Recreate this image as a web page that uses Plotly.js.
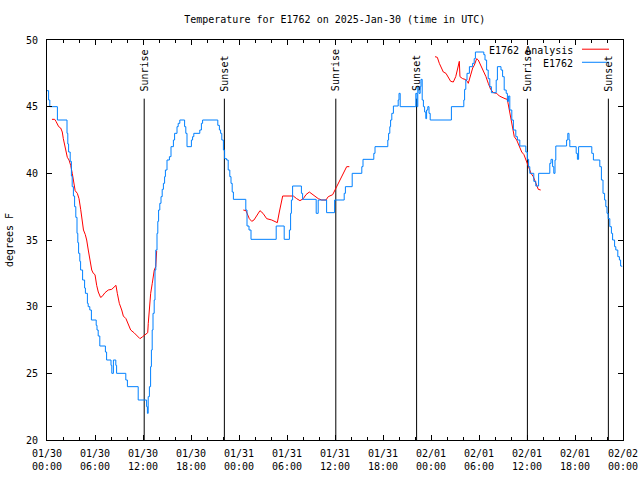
<!DOCTYPE html>
<html>
<head>
<meta charset="utf-8">
<script src="https://cdn.plot.ly/plotly-3.0.1.min.js"></script>
<style>html,body{margin:0;padding:0;background:#fff;}#chart{width:640px;height:480px;}</style>
</head>
<body>
<div id="chart"></div>
<script>
// Time in hours since 2025-01-30 00:00 UTC
const tickHours = [0, 6, 12, 18, 24, 30, 36, 42, 48, 54, 60, 66, 72];
const tickLabels = ['01/30<br>00:00', '01/30<br>06:00', '01/30<br>12:00', '01/30<br>18:00',
  '01/31<br>00:00', '01/31<br>06:00', '01/31<br>12:00', '01/31<br>18:00',
  '02/01<br>00:00', '02/01<br>06:00', '02/01<br>12:00', '02/01<br>18:00', '02/02<br>00:00'];

// Observed series E1762 (step-wise changes)
const obsHours = [0.0, 0.2, 0.35, 1.3, 2.5, 2.6, 2.7, 2.9, 3.05, 3.15, 3.3, 3.45, 3.6, 3.75, 3.85, 3.95,
  4.1, 4.2, 4.45, 4.7, 4.8, 5.05, 5.15, 5.35, 5.55, 6.15, 6.25, 6.4, 6.6, 7.3, 7.45, 8.0, 8.1, 8.3, 8.6,
  8.7, 9.85, 10.05, 11.4, 12.45, 12.55, 12.65, 12.8, 12.95, 13.05, 13.15, 13.25, 13.4, 13.5, 13.6, 13.75,
  13.85, 13.95, 14.1, 14.25, 14.4, 14.55, 14.7, 14.8, 15.0, 15.3, 15.5, 15.8, 15.95, 16.25, 16.4, 16.6,
  17.2, 17.35, 17.5, 18.05, 18.2, 18.35, 19.1, 19.3, 19.45, 21.35, 21.55, 21.7, 21.85, 22.05, 22.2, 22.45,
  22.65, 22.85, 23.0, 23.15, 23.3, 24.85, 25.0, 25.25, 25.5, 28.65, 29.65, 30.3, 30.45, 30.55, 30.7,
  31.8, 31.95, 33.65, 33.9, 34.95, 35.95, 37.15, 37.3, 38.15, 39.35, 39.5, 40.85, 41.0, 42.6, 42.7,
  42.85, 42.95, 43.1, 43.3, 43.9, 44.0, 44.15, 46.1, 46.25, 46.35, 46.5, 46.65, 46.75, 46.9, 47.05,
  47.2, 47.35, 47.45, 47.6, 47.75, 47.9, 50.55, 52.1, 52.2, 52.35, 52.5, 52.8, 53.2, 53.4, 53.55, 54.6,
  54.75, 54.95, 55.15, 55.35, 55.55, 56.15, 56.3, 56.75, 56.95, 57.15, 57.4, 57.55, 57.7, 57.85, 58.1,
  58.3, 58.6, 58.8, 59.1, 59.85, 60.05, 60.2, 60.35, 60.85, 61.1, 61.45, 62.85, 63.0, 63.2, 63.35, 63.5,
  63.6, 64.95, 65.1, 65.25, 65.35, 66.15, 66.3, 66.45, 68.1, 68.3, 69.1, 69.3, 69.5, 69.7, 69.85, 70.0,
  70.15, 70.35, 70.55, 70.7, 70.95, 71.1, 71.35, 71.55, 71.7, 71.85];
const obsTemps = [46.2, 45.5, 45, 44, 43, 42.2, 41.6, 40.9, 39.8, 39, 38.3, 37.5, 36.7, 35.5, 34.8, 34,
  33.4, 32.75, 32, 31.4, 31, 30.25, 30, 29.75, 29, 28.6, 28.25, 27.8, 27.05, 26.6, 26, 25.6, 25, 26, 25.6,
  25, 24.5, 24, 23, 22.5, 22, 23.25, 24, 25.5, 26.75, 28.25, 29.5, 30.5, 32.75, 34.25, 35.5,
  36.4, 37.25, 37.75, 38.25, 38.8, 39.25, 39.75, 40.25, 41, 41.25, 42, 42.5, 43, 43.5, 43.75, 44,
  43.5, 43, 42, 42.5, 42.75, 43, 43.25, 43.75, 44, 43.6, 43.25, 43, 42.5, 41.75, 41.1, 41,
  40.25, 39.75, 39.25, 38.6, 38.05, 37.25, 36.05, 35.75, 35.05, 36.05, 35.05, 35.75, 37, 38, 39.05,
  38.5, 38.05, 37, 38, 37.05, 38, 38.5, 39, 40, 40.5, 41.05, 41.5, 42, 42.5, 43,
  43.5, 44, 44.5, 45.05, 45.5, 46, 45, 46, 45, 46.5, 46, 46.5, 47.05, 45.5, 45,
  44.6, 44.1, 44.75, 45, 44.5, 44, 45, 45.5, 46.3, 47, 47.5, 48, 48.25, 48.6, 49.1, 48.9,
  48.5, 47.75, 47.1, 46.5, 46.05, 47, 48, 47.75, 47.25, 46.25, 46, 45.4, 45.8, 44.75, 44,
  43.25, 42.75, 42.5, 42.05, 41.6, 41.05, 40.5, 40, 39.4, 39.05, 40, 40.75, 41.05, 40.5, 40, 41,
  42.05, 42.5, 43, 42.5, 42, 41.5, 41.05, 42, 41.5, 41, 40.5, 39.5, 38.5, 38, 37.5, 37,
  36.6, 36, 35.5, 35, 34.5, 34.25, 33.75, 33.5, 33.05, 33];

// Analysis series E1762 Analysis (null = gap)
const anaHours = [0.62, 0.96, 1.12, 1.46, 1.71, 1.91, 2.04, 2.21, 2.37, 2.54, 2.75, 2.96, 3.16, 3.37, 3.52,
  3.79, 4.0, 4.21, 4.37, 4.56, 4.79, 4.96, 5.16, 5.37, 5.59, 5.79, 6.0, 6.21, 6.41, 6.69, 6.87, 7.25, 7.66,
  8.09, 8.62, 8.79, 9.04, 9.34, 9.54, 9.87, 10.16, 10.46, 10.87, 11.29, 11.62, 11.96, 12.25, 12.59, 12.66,
  12.79, 12.96, 13.16, 13.41, 13.59, 13.66, 13.71, null,
  24.54, 24.87, 25.29, 25.59, 25.87, 26.21, 26.62, 27.0, 27.46, 28.09, 28.62, 28.79, 29.04, 29.25, 29.46,
  30.37, 30.79, 31.21, 31.62, 32.04, 32.37, 32.79, 33.29, 33.91, 34.34, 34.87, 35.16, 35.71, 36.0, 36.29,
  36.62, 36.96, 37.25, 37.46, 37.79, null,
  48.5, 48.79, 49.04, 49.34, 49.54, 49.87, 50.16, 50.46, 50.79, 51.09, 51.29, 51.54, 51.62, 51.96, 52.25,
  52.54, 52.66, 52.79, 52.96, 53.21, 53.41, 53.71, 53.91, 54.21, 54.54, 54.87, 55.16, 55.46, 55.79, 56.21,
  56.54, 56.84, 57.25, 57.54, 57.79, 58.0, 58.21, 58.41, 58.71, 59.04, 59.34, 59.62, 59.96, 60.16, 60.5,
  60.79, 61.0, 61.21, 61.41, 61.71];
const anaTemps = [44.05, 44.05, 43.9, 43.5, 43.4, 43.1, 42.6, 42.1, 41.6, 41.2, 41, 40.6, 40, 39.4, 38.7,
  38.5, 38.1, 37.3, 36.6, 35.75, 35.4, 35, 34.25, 33.4, 32.75, 32.5, 32.4, 31.6, 31.1, 30.7, 30.75, 31.05, 31.25,
  31.3, 31.6, 31, 30.25, 29.75, 29.3, 29.1, 28.6, 28.25, 28.05, 27.8, 27.6, 27.75, 27.9, 28.05, 28.75,
  29.9, 31, 31.75, 32.75, 33, 34.2, 34.2, null,
  37.25, 37.2, 36.6, 36.4, 36.5, 36.8, 37.2, 37, 36.6, 36.5, 36.3, 36.3, 37.1, 37.75, 38.3,
  38.3, 38.3, 38.1, 37.95, 38.1, 38.4, 38.6, 38.4, 38.1, 38, 38, 38.25, 38.4, 38.75, 39.1,
  39.4, 39.8, 40.25, 40.5, 40.5, null,
  48.75, 48.7, 48.25, 47.9, 47.6, 47.5, 47.25, 46.9, 46.85, 47.25, 47.75, 48.4, 47.25, 47.1, 47.05,
  46.9, 46.75, 47.05, 47.4, 47.9, 48.1, 48.6, 48.5, 48.1, 47.75, 47.25, 46.75, 46.3, 46.05, 46,
  45.8, 45.7, 45.6, 45.55, 44.75, 44, 43.25, 42.75, 42.5, 42, 41.6, 41.4, 40.9, 40.5, 40,
  39.75, 39.4, 39, 38.8, 38.75];

// Sunrise / sunset markers
const sunHours = [12.15, 22.17, 36.1, 46.2, 60.05, 70.17];
const sunNames = ['Sunrise', 'Sunset', 'Sunrise', 'Sunset', 'Sunrise', 'Sunset'];
const sunLineTop = 45.6;

const FONT = 'DejaVu Sans Mono, monospace';
const RED = '#ff0000';
const BLUE = '#0080ff';

const traces = [];
sunHours.forEach(function (h) {
  traces.push({x: [h, h], y: [20, sunLineTop], mode: 'lines', type: 'scatter',
    line: {color: '#000', width: 1}, showlegend: false, hoverinfo: 'skip'});
});
traces.push({x: anaHours, y: anaTemps, type: 'scatter', mode: 'lines', name: 'E1762 Analysis',
  line: {color: RED, width: 1}, connectgaps: false, showlegend: false});
traces.push({x: obsHours, y: obsTemps, type: 'scatter', mode: 'lines', name: 'E1762',
  line: {color: BLUE, width: 1, shape: 'hv'}, showlegend: false});

const annotations = sunHours.map(function (h, i) {
  return {x: h, y: 46.0, xref: 'x', yref: 'y', text: sunNames[i], textangle: -90,
    showarrow: false, xanchor: 'center', yanchor: 'bottom', font: {family: FONT, size: 10, color: '#000'}};
});
annotations.push({x: 0.9167, y: 0.974, xref: 'paper', yref: 'paper', text: 'E1762 Analysis', showarrow: false,
  xanchor: 'right', yanchor: 'middle', font: {family: FONT, size: 10, color: '#000'}});
annotations.push({x: 0.9167, y: 0.9405, xref: 'paper', yref: 'paper', text: 'E1762', showarrow: false,
  xanchor: 'right', yanchor: 'middle', font: {family: FONT, size: 10, color: '#000'}});

const shapes = [
  {type: 'line', xref: 'paper', yref: 'paper', x0: 0.9288, x1: 0.9757, y0: 0.977, y1: 0.977, line: {color: RED, width: 1}},
  {type: 'line', xref: 'paper', yref: 'paper', x0: 0.9288, x1: 0.9757, y0: 0.9443, y1: 0.9443, line: {color: BLUE, width: 1}}
];

const layout = {
  width: 640, height: 480,
  margin: {l: 47, r: 17, t: 40, b: 40},
  paper_bgcolor: '#fff', plot_bgcolor: '#fff',
  font: {family: FONT, size: 10, color: '#000'},
  title: {text: 'Temperature for E1762 on 2025-Jan-30 (time in UTC)', x: 0.523, xanchor: 'center',
    y: 0.96, yref: 'container', yanchor: 'middle', font: {family: FONT, size: 10, color: '#000'}},
  xaxis: {range: [0, 72], tickmode: 'array', tickvals: tickHours, ticktext: tickLabels,
    ticks: 'inside', ticklen: 5, tickcolor: '#000', showline: true, linecolor: '#000', linewidth: 1,
    mirror: 'ticks', showgrid: false, zeroline: false, fixedrange: true, ticklabelstandoff: 4,
    minor: {tickmode: 'linear', tick0: 0, dtick: 2, ticks: 'inside', ticklen: 3, tickcolor: '#000', showgrid: false},
    tickfont: {family: FONT, size: 10, color: '#000'}},
  yaxis: {range: [20, 50], tickmode: 'linear', tick0: 20, dtick: 5, ticks: 'inside', ticklen: 5, tickcolor: '#000',
    showline: true, linecolor: '#000', linewidth: 1, mirror: 'ticks', showgrid: false, zeroline: false,
    ticklabelstandoff: 6,
    title: {text: 'degrees F', font: {family: FONT, size: 10, color: '#000'}, standoff: 10},
    tickfont: {family: FONT, size: 10, color: '#000'}},
  annotations: annotations,
  shapes: shapes,
  showlegend: false
};

Plotly.newPlot('chart', traces, layout, {staticPlot: true, displayModeBar: false});
</script>
</body>
</html>
